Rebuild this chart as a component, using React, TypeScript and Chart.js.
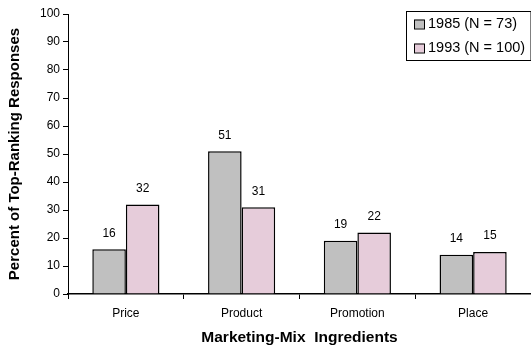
import React, { useEffect, useRef } from "react";
import { Chart, registerables } from "chart.js";

Chart.register(...registerables);

const categories = ["Price", "Product", "Promotion", "Place"];
const series1985 = [16, 51, 19, 14];
const series1993 = [32, 31, 22, 15];
const seriesNames = ["1985 (N = 73)", "1993 (N = 100)"];
const seriesColors = ["#C0C0C0", "#E6CCDA"];

const FONT = "Arial, 'Liberation Sans', sans-serif";

// Numbers printed above each bar
const valueLabels = {
  id: "valueLabels",
  afterDatasetsDraw(chart: any) {
    const ctx = chart.ctx;
    ctx.save();
    ctx.font = `12px ${FONT}`;
    ctx.fillStyle = "#000";
    ctx.textAlign = "center";
    ctx.textBaseline = "middle";
    chart.data.datasets.forEach((ds: any, i: number) => {
      const meta = chart.getDatasetMeta(i);
      meta.data.forEach((bar: any, j: number) => {
        ctx.fillText(String(ds.data[j]), bar.x, bar.y - 16);
      });
    });
    ctx.restore();
  },
};

// Boxed legend in the top-right corner of the plot
const boxLegend = {
  id: "boxLegend",
  afterDraw(chart: any) {
    const ctx = chart.ctx;
    const area = chart.chartArea;
    const x0 = 406;
    const y0 = 11;
    const w = area.right - x0 - 0.5;
    const h = 49;
    ctx.save();
    ctx.fillStyle = "#fff";
    ctx.fillRect(x0, y0, w, h);
    ctx.strokeStyle = "#000";
    ctx.lineWidth = 1;
    ctx.strokeRect(x0 + 0.5, y0 + 0.5, w, h);
    ctx.font = `14.5px ${FONT}`;
    ctx.textBaseline = "middle";
    ctx.textAlign = "left";
    chart.data.datasets.forEach((ds: any, i: number) => {
      const cy = y0 + 12.5 + i * 24;
      ctx.fillStyle = ds.backgroundColor;
      ctx.fillRect(414, cy - 4, 10, 9);
      ctx.strokeStyle = "#000";
      ctx.strokeRect(414.5, cy - 3.5, 10, 9);
      ctx.fillStyle = "#000";
      ctx.fillText(ds.label, 428, cy + 0.5);
    });
    ctx.restore();
  },
};

export default function App() {
  const canvasRef = useRef<HTMLCanvasElement | null>(null);

  useEffect(() => {
    document.body.style.margin = "0";
    const canvas = canvasRef.current;
    if (!canvas) return;
    const chart = new Chart(canvas, {
      type: "bar",
      data: {
        labels: categories,
        datasets: [
          {
            label: seriesNames[0],
            data: series1985,
            backgroundColor: seriesColors[0],
            borderColor: "#000",
            borderWidth: 1.5,
          },
          {
            label: seriesNames[1],
            data: series1993,
            backgroundColor: seriesColors[1],
            borderColor: "#000",
            borderWidth: 1.5,
          },
        ],
      },
      options: {
        responsive: false,
        animation: false,
        layout: { padding: { top: 14, right: 0, left: 0, bottom: 0 } },
        datasets: {
          bar: { categoryPercentage: 0.58, barPercentage: 1 },
        },
        plugins: {
          legend: { display: false },
          tooltip: { enabled: false },
        },
        scales: {
          x: {
            grid: {
              offset: true,
              drawOnChartArea: false,
              drawTicks: true,
              tickLength: 5,
              color: "#000",
            },
            border: { display: true, color: "#000", width: 1.5 },
            ticks: {
              color: "#000",
              font: { family: FONT, size: 12 },
              padding: 7,
            },
            title: {
              display: true,
              text: "Marketing-Mix  Ingredients",
              color: "#000",
              font: { family: FONT, size: 15.5, weight: "bold" },
              padding: { top: 0, bottom: 4 },
            },
            afterFit(scale: any) {
              scale.height = 57;
            },
          },
          y: {
            min: 0,
            max: 100,
            ticks: {
              stepSize: 10,
              color: "#000",
              font: { family: FONT, size: 12 },
              padding: 3,
            },
            grid: {
              drawOnChartArea: false,
              drawTicks: true,
              tickLength: 5,
              color: "#000",
            },
            border: { display: true, color: "#000", width: 1 },
            title: {
              display: true,
              text: "Percent of Top-Ranking Responses",
              color: "#000",
              font: { family: FONT, size: 15, weight: "bold" },
              padding: { top: 6, bottom: 0 },
            },
            afterFit(scale: any) {
              scale.width = 68;
            },
          },
        },
      },
      plugins: [valueLabels, boxLegend],
    });
    return () => chart.destroy();
  }, []);

  return (
    <div style={{ width: 531, height: 351 }}>
      <canvas ref={canvasRef} width={531} height={351} />
    </div>
  );
}
